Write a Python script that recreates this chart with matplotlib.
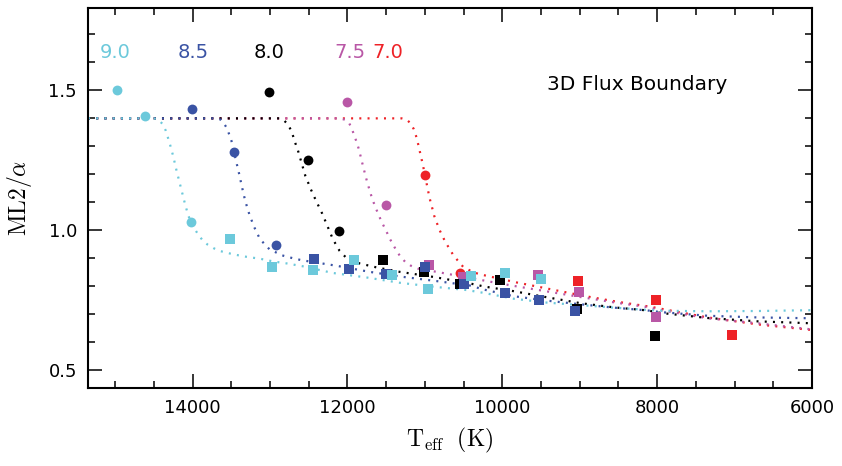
import numpy as np
import matplotlib
matplotlib.use('Agg')
import matplotlib.pyplot as plt
from matplotlib.ticker import MultipleLocator

plt.rcParams['mathtext.fontset'] = 'cm'
plt.rcParams['font.family'] = ['DejaVu Sans']

# colours per log g
col = {'9.0': '#6cc9db', '8.5': '#3a53a4', '8.0': '#000000', '7.5': '#b957a6', '7.0': '#ee2227'}
order = ['7.0', '7.5', '8.0', '8.5', '9.0']

# 3D models, circles (convective boundary region)
circ_T = {
    '9.0': [14980, 14610, 14020],
    '8.5': [14010, 13470, 12920],
    '8.0': [13010, 12510, 12105],
    '7.5': [12005, 11505],
    '7.0': [11000, 10545],
}
circ_v = {
    '9.0': [1.50, 1.41, 1.03],
    '8.5': [1.435, 1.28, 0.947],
    '8.0': [1.494, 1.25, 0.996],
    '7.5': [1.46, 1.089],
    '7.0': [1.199, 0.847],
}

# 3D models, squares
sq_T = {
    '9.0': [13510, 12980, 12450, 11920, 11420, 10960, 10400, 9960, 9505],
    '8.5': [12430, 11980, 11500, 10995, 10490, 9970, 9520, 9065],
    '8.0': [11540, 11010, 10545, 10030, 9030, 8030],
    '7.5': [10945, 10505, 9545, 9010, 8015],
    '7.0': [9025, 8020, 7040],
}
sq_v = {
    '9.0': [0.970, 0.867, 0.856, 0.895, 0.838, 0.788, 0.835, 0.846, 0.824],
    '8.5': [0.898, 0.860, 0.845, 0.870, 0.806, 0.774, 0.752, 0.710],
    '8.0': [0.895, 0.850, 0.807, 0.821, 0.719, 0.620],
    '7.5': [0.877, 0.833, 0.838, 0.778, 0.688],
    '7.0': [0.817, 0.750, 0.624],
}

# fitted curves
fit_T = {
    '9.0': [15350, 14500, 14440, 14391, 14347, 14296, 14249, 14210, 14166, 14101, 14054,
            13972, 13929, 13873, 13808, 13730, 13652, 13479, 13307, 13129, 12953, 12779,
            12577, 12188, 11755, 11324, 10892, 10460, 10244, 9855, 9422, 8990, 8559, 8126,
            7953, 7348, 6700, 6000],
    '8.5': [15350, 13700, 13640, 13605, 13557, 13527, 13497, 13440, 13397, 13362, 13320,
            13268, 13207, 13129, 13008, 12844, 12680, 12577, 12144, 11712, 11280, 10848,
            10416, 10244, 9855, 9422, 8990, 8559, 8126, 7953, 7348, 6700, 6000],
    '8.0': [15350, 12880, 12820, 12771, 12727, 12697, 12671, 12642, 12568, 12542, 12507,
            12477, 12438, 12403, 12325, 12257, 12188, 12101, 12014, 11841, 11625, 11324,
            10892, 10460, 10222, 9855, 9422, 8990, 8559, 8126, 7953, 7348, 6700, 6000],
    '7.5': [15350, 12100, 12030, 11981, 11942, 11911, 11881, 11855, 11833, 11812, 11790,
            11768, 11746, 11720, 11694, 11664, 11638, 11599, 11569, 11526, 11487, 11452,
            11409, 11366, 11314, 11255, 11181, 11094, 10827, 10633, 10330, 10201, 9855,
            9422, 8990, 8559, 8126, 7953, 7348, 6700, 6000],
    '7.0': [15350, 11300, 11235, 11194, 11146, 11116, 11094, 11073, 11055, 11034, 11016,
            10982, 10964, 10947, 10925, 10904, 10879, 10848, 10813, 10774, 10740, 10692,
            10640, 10580, 10506, 10373, 10252, 9813, 9379, 8947, 8515, 8083, 7737, 7348,
            6700, 6000],
}
fit_v = {
    '9.0': [1.400, 1.400, 1.395, 1.381, 1.357, 1.312, 1.264, 1.217, 1.169, 1.098, 1.051,
            1.005, 0.985, 0.965, 0.949, 0.936, 0.926, 0.914, 0.905, 0.898, 0.888, 0.881,
            0.871, 0.847, 0.831, 0.812, 0.798, 0.786, 0.776, 0.755, 0.741, 0.732, 0.723,
            0.715, 0.712, 0.710, 0.711, 0.714],
    '8.5': [1.400, 1.400, 1.396, 1.387, 1.365, 1.343, 1.319, 1.250, 1.200, 1.155, 1.105,
            1.058, 1.013, 0.968, 0.932, 0.910, 0.898, 0.892, 0.873, 0.851, 0.833, 0.818,
            0.802, 0.788, 0.764, 0.748, 0.735, 0.723, 0.713, 0.707, 0.694, 0.688, 0.685],
    '8.0': [1.400, 1.400, 1.393, 1.379, 1.357, 1.333, 1.310, 1.288, 1.218, 1.193, 1.170,
            1.149, 1.125, 1.104, 1.059, 1.014, 0.968, 0.926, 0.901, 0.881, 0.867, 0.851,
            0.833, 0.812, 0.798, 0.782, 0.760, 0.739, 0.724, 0.713, 0.704, 0.686, 0.674,
            0.667],
    '7.5': [1.400, 1.400, 1.395, 1.385, 1.362, 1.338, 1.315, 1.292, 1.268, 1.244, 1.220,
            1.196, 1.173, 1.149, 1.125, 1.101, 1.081, 1.057, 1.036, 1.012, 0.990, 0.969,
            0.948, 0.926, 0.905, 0.887, 0.873, 0.863, 0.850, 0.840, 0.825, 0.818, 0.801,
            0.781, 0.761, 0.742, 0.725, 0.714, 0.685, 0.667, 0.645],
    '7.0': [1.400, 1.400, 1.395, 1.385, 1.363, 1.339, 1.316, 1.292, 1.268, 1.244, 1.220,
            1.173, 1.149, 1.125, 1.099, 1.078, 1.051, 1.028, 1.002, 0.980, 0.960, 0.938,
            0.914, 0.893, 0.869, 0.849, 0.840, 0.813, 0.789, 0.765, 0.744, 0.726, 0.708,
            0.688, 0.663, 0.643],
}

# label positions for the log g values
lab_T = {'9.0': 15000, '8.5': 13990, '8.0': 13010, '7.5': 11970, '7.0': 11480}
lab_y = 1.635

fig = plt.figure(figsize=(8.42, 4.66), dpi=100)
ax = fig.add_axes([0.1045, 0.167, 0.8600, 0.816])

for g in order:
    ax.plot(fit_T[g], fit_v[g], color=col[g], lw=1.6, linestyle=(0, (0.9, 2.8)),
            dash_capstyle='butt', zorder=2)
for g in order:
    ax.scatter(circ_T[g], circ_v[g], s=50, marker='o', color=col[g], lw=0, zorder=3)
    ax.scatter(sq_T[g], sq_v[g], s=62, marker='s', color=col[g], lw=0, zorder=3)
    ax.text(lab_T[g], lab_y, g, color=col[g], fontsize=14, ha='center', va='center')

ax.text(8265, 1.52, '3D Flux Boundary', fontsize=14.5, ha='center', va='center')

ax.set_xlim(15350, 6000)
ax.set_ylim(0.435, 1.795)
ax.xaxis.set_major_locator(MultipleLocator(2000))
ax.xaxis.set_minor_locator(MultipleLocator(500))
ax.yaxis.set_major_locator(MultipleLocator(0.5))
ax.yaxis.set_minor_locator(MultipleLocator(0.1))
ax.yaxis.set_major_formatter(plt.FormatStrFormatter('%.1f'))
ax.tick_params(which='both', direction='in', top=True, right=True, labelsize=13, width=1.1)
ax.tick_params(which='major', length=10, pad=8)
ax.tick_params(which='minor', length=5)
for sp in ax.spines.values():
    sp.set_linewidth(1.5)

ax.set_xlabel(r'$\mathrm{T_{eff}}\ \ \mathrm{(K)}$', fontsize=17, labelpad=6)
ax.set_ylabel(r'$\mathrm{ML2}/\alpha$', fontsize=17, labelpad=10)

fig.savefig('out.png', dpi=100)
